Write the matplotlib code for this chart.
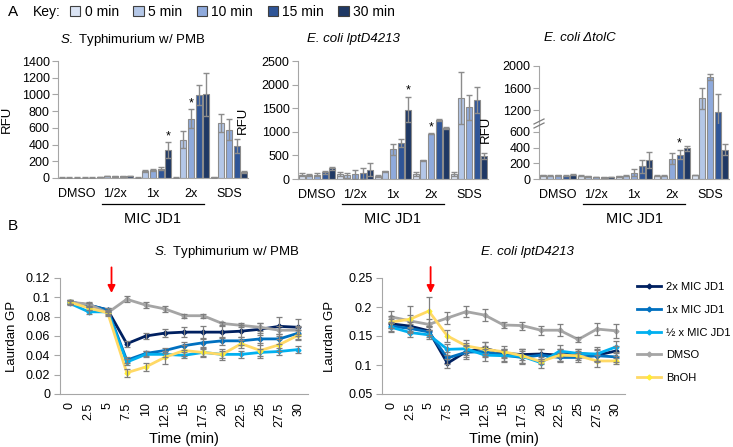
import matplotlib.pyplot as plt
import numpy as np
from matplotlib.patches import Patch
from matplotlib.lines import Line2D
from matplotlib.transforms import blended_transform_factory

plt.rcParams['font.family'] = ['Liberation Sans', 'DejaVu Sans']
plt.rcParams['font.size'] = 9
plt.rcParams['mathtext.fontset'] = 'custom'
plt.rcParams['mathtext.it'] = 'Liberation Sans:italic'
plt.rcParams['mathtext.rm'] = 'Liberation Sans'

# ---- panel A data (rows = treatment groups, columns = time points) ----
times = ['0 min', '5 min', '10 min', '15 min', '30 min']
groups = ['DMSO', '1/2x', '1x', '2x', 'SDS']
bar_colors = ['#dae3f3', '#b4c7e7', '#8faadc', '#2f5597', '#1f3864']

st_vals = [[5, 5, 5, 5, 5],
           [10, 22, 20, 20, 22],
           [5, 85, 90, 110, 335],
           [5, 460, 710, 990, 1000],
           [8, 655, 580, 385, 70]]
st_err = [[2, 2, 2, 2, 2],
          [3, 3, 3, 3, 3],
          [3, 10, 12, 20, 90],
          [3, 105, 110, 120, 260],
          [3, 105, 130, 80, 12]]
st_stars = [(2, 4), (3, 2)]

ec_vals = [[95, 90, 95, 140, 230],
           [100, 80, 100, 120, 200],
           [70, 160, 630, 760, 1470],
           [100, 400, 960, 1250, 1080],
           [110, 1720, 1520, 1670, 490]]
ec_err = [[40, 25, 25, 30, 30],
          [45, 50, 90, 110, 130],
          [20, 15, 120, 80, 270],
          [40, 10, 15, 15, 20],
          [40, 550, 260, 270, 70]]
ec_stars = [(2, 4), (3, 2)]

tc_vals = [[45, 40, 45, 40, 55],
           [40, 35, 25, 20, 25],
           [35, 40, 80, 160, 240],
           [40, 40, 260, 310, 390],
           [50, 1420, 1800, 1160, 370]]
tc_err = [[5, 5, 5, 5, 10],
          [5, 5, 3, 3, 3],
          [5, 5, 45, 80, 100],
          [5, 5, 70, 60, 30],
          [5, 190, 60, 340, 70]]
tc_stars = [(3, 3)]

# ---- panel B data ----
t_min = [0, 2.5, 5, 7.5, 10, 12.5, 15, 17.5, 20, 22.5, 25, 27.5, 30]
series_names = ['2x MIC JD1', '1x MIC JD1', '½ x MIC JD1', 'DMSO', 'BnOH']
line_colors = ['#002060', '#0070c0', '#00b0f0', '#a5a5a5', '#ffd966']

st_gp = [[0.095, 0.092, 0.087, 0.052, 0.060, 0.063, 0.064, 0.064, 0.064, 0.065, 0.067, 0.070, 0.069],
         [0.095, 0.092, 0.087, 0.035, 0.042, 0.045, 0.050, 0.053, 0.055, 0.055, 0.057, 0.057, 0.063],
         [0.094, 0.085, 0.085, 0.033, 0.041, 0.041, 0.040, 0.043, 0.041, 0.041, 0.043, 0.044, 0.046],
         [0.095, 0.093, 0.084, 0.098, 0.092, 0.088, 0.081, 0.081, 0.073, 0.071, 0.069, 0.066, 0.066],
         [0.095, 0.089, 0.084, 0.022, 0.028, 0.038, 0.045, 0.043, 0.041, 0.052, 0.045, 0.051, 0.061]]
st_gp_err = [[0.002, 0.002, 0.002, 0.003, 0.003, 0.004, 0.005, 0.006, 0.006, 0.006, 0.006, 0.010, 0.009],
             [0.002, 0.002, 0.002, 0.003, 0.003, 0.003, 0.004, 0.004, 0.004, 0.004, 0.006, 0.005, 0.006],
             [0.002, 0.002, 0.002, 0.003, 0.003, 0.003, 0.003, 0.004, 0.004, 0.004, 0.004, 0.004, 0.004],
             [0.002, 0.002, 0.003, 0.003, 0.003, 0.003, 0.002, 0.002, 0.002, 0.002, 0.004, 0.004, 0.004],
             [0.002, 0.002, 0.002, 0.004, 0.004, 0.007, 0.006, 0.005, 0.006, 0.004, 0.008, 0.006, 0.005]]

ec_gp = [[0.171, 0.167, 0.159, 0.103, 0.123, 0.129, 0.120, 0.118, 0.119, 0.117, 0.120, 0.117, 0.124],
         [0.167, 0.163, 0.157, 0.112, 0.122, 0.123, 0.117, 0.113, 0.117, 0.113, 0.113, 0.116, 0.114],
         [0.165, 0.156, 0.152, 0.127, 0.128, 0.117, 0.116, 0.115, 0.104, 0.124, 0.120, 0.119, 0.131],
         [0.183, 0.176, 0.170, 0.181, 0.192, 0.186, 0.169, 0.168, 0.160, 0.160, 0.144, 0.162, 0.159],
         [0.174, 0.179, 0.193, 0.150, 0.133, 0.127, 0.123, 0.116, 0.106, 0.117, 0.116, 0.107, 0.107]]
ec_gp_err = [[0.008, 0.008, 0.008, 0.008, 0.010, 0.010, 0.008, 0.010, 0.008, 0.010, 0.008, 0.010, 0.008],
             [0.008, 0.008, 0.008, 0.010, 0.012, 0.010, 0.010, 0.012, 0.010, 0.008, 0.008, 0.010, 0.008],
             [0.008, 0.008, 0.008, 0.010, 0.010, 0.010, 0.010, 0.012, 0.010, 0.010, 0.008, 0.012, 0.010],
             [0.010, 0.010, 0.010, 0.010, 0.010, 0.010, 0.005, 0.007, 0.008, 0.010, 0.005, 0.010, 0.012],
             [0.010, 0.022, 0.025, 0.010, 0.010, 0.012, 0.010, 0.012, 0.005, 0.010, 0.008, 0.010, 0.005]]

W, H = 733, 447
fig = plt.figure(figsize=(W / 100, H / 100), dpi=100)


def fr(x0, y_top, x1, y_bot):
    return [x0 / W, 1 - y_bot / H, (x1 - x0) / W, (y_bot - y_top) / H]


edge = '#8c8c8c'
spine_c = '#a6a6a6'


def draw_bars(ax, vals, errs):
    vals = np.array(vals)
    errs = np.array(errs)
    for t in range(len(times)):
        x = np.arange(len(groups)) * 5 + t
        ax.bar(x, vals[:, t], width=0.78, color=bar_colors[t], edgecolor=edge, lw=0.8,
               yerr=errs[:, t], zorder=2,
               error_kw=dict(ecolor=edge, elinewidth=1, capsize=2.2, capthick=1, zorder=3))


def style_a(ax, show_x=True):
    ax.set_xlim(-0.5, 24.5)
    for s in ['top', 'right']:
        ax.spines[s].set_visible(False)
    ax.spines['left'].set_color(spine_c)
    ax.spines['bottom'].set_color(spine_c)
    ax.tick_params(axis='y', color=spine_c, length=4, pad=2, labelsize=9)
    if show_x:
        ax.set_xticks(np.arange(len(groups)) * 5 + 2, groups)
        ax.tick_params(axis='x', length=0, pad=7, labelsize=9)
    else:
        ax.set_xticks([])


def mic_bracket(ax):
    tr = blended_transform_factory(ax.transData, fig.transFigure)
    ax.add_line(Line2D([5.3, 18.7], [1 - 204 / H] * 2, transform=tr, color='black', lw=0.9, clip_on=False))
    ax.text(12, 1 - 219 / H, 'MIC JD1', transform=tr, ha='center', va='center', fontsize=10.5)


def stars(ax, vals, errs, marks):
    for g, t in marks:
        ax.annotate('*', xy=(g * 5 + t, vals[g][t] + errs[g][t]), xytext=(0, 0),
                    textcoords='offset points', ha='center', va='bottom', fontsize=9)


# Chart A1
ax1 = fig.add_axes(fr(58, 61, 248, 178))
draw_bars(ax1, st_vals, st_err)
style_a(ax1)
ax1.set_ylim(0, 1400)
ax1.set_yticks(np.arange(0, 1401, 200))
ax1.set_ylabel('RFU', fontsize=9.5)
ax1.yaxis.set_label_coords(-0.24, 0.5)
stars(ax1, st_vals, st_err, st_stars)
mic_bracket(ax1)
fig.text(133 / W, 1 - 40 / H, r'$\mathit{S.}$ Typhimurium w/ PMB', ha='center', va='center', fontsize=9.5)

# Chart A2
ax2 = fig.add_axes(fr(298, 61, 488, 179))
draw_bars(ax2, ec_vals, ec_err)
style_a(ax2)
ax2.set_ylim(0, 2500)
ax2.set_yticks(np.arange(0, 2501, 500))
ax2.set_ylabel('RFU', fontsize=9.5)
ax2.yaxis.set_label_coords(-0.26, 0.5)
stars(ax2, ec_vals, ec_err, ec_stars)
mic_bracket(ax2)
fig.text(353 / W, 1 - 39 / H, 'E. coli lptD4213', ha='center', va='center', fontsize=9.5, style='italic')

# Chart A3 (broken axis)
ax3h = fig.add_axes(fr(539, 66, 729, 124))
ax3l = fig.add_axes(fr(539, 124, 729, 179))
for ax in (ax3h, ax3l):
    draw_bars(ax, tc_vals, tc_err)
style_a(ax3h, show_x=False)
ax3h.spines['bottom'].set_visible(False)
ax3h.set_ylim(950, 2000)
ax3h.set_yticks([1200, 1600, 2000])
style_a(ax3l)
ax3l.set_ylim(0, 700)
ax3l.set_yticks([0, 200, 400, 600])
ax3l.set_ylabel('RFU', fontsize=9.5)
ax3l.yaxis.set_label_coords(-0.25, 0.9)
stars(ax3l, tc_vals, tc_err, tc_stars)
mic_bracket(ax3l)
for dy in (0, 4):
    fig.add_artist(Line2D([534 / W, 544 / W], [1 - (128 - dy) / H, 1 - (123 - dy) / H],
                          color='#7f7f7f', lw=0.9))
fig.text(580 / W, 1 - 38 / H, 'E. coli ΔtolC', ha='center', va='center', fontsize=9.5, style='italic')

# Key legend
fig.text(8 / W, 1 - 12 / H, 'A', fontsize=11, va='center', ha='left')
fig.text(33 / W, 1 - 12 / H, 'Key:', fontsize=10, va='center', ha='left')
key_handles = [Patch(facecolor=c, edgecolor='#404040', lw=0.8, label=t) for c, t in zip(bar_colors, times)]
fig.legend(handles=key_handles, ncol=5, loc='center left', bbox_to_anchor=(70 / W, 1 - 12 / H),
           frameon=False, fontsize=10, handlelength=0.75, handleheight=0.75, handletextpad=0.3,
           columnspacing=1.05, borderpad=0, borderaxespad=0)


# Panel B
def draw_lines(ax, data, errs):
    for vals, err, c in zip(data, errs, line_colors):
        mfc = '#ffee33' if c == '#ffd966' else c
        ax.plot(t_min, vals, color=c, lw=2, marker='D', ms=2.5, mfc=mfc, mec=mfc, zorder=2)
        ax.errorbar(t_min, vals, yerr=err, fmt='none', ecolor='#7f7f7f', elinewidth=0.9,
                    capsize=2.5, capthick=0.9, zorder=3)


def style_b(ax):
    ax.set_xlim(-1.25, 31.25)
    ax.set_xticks(t_min, [f'{t:g}' for t in t_min], rotation=90)
    for s in ['top', 'right']:
        ax.spines[s].set_visible(False)
    ax.spines['left'].set_color(spine_c)
    ax.spines['bottom'].set_color(spine_c)
    ax.tick_params(axis='x', length=0, pad=6, labelsize=9)
    ax.tick_params(axis='y', color=spine_c, length=4, pad=3, labelsize=9)
    ax.yaxis.set_major_formatter(plt.FuncFormatter(lambda v, p: f'{v:g}'))
    ax.set_xlabel('Time (min)', fontsize=10.5, labelpad=4)


fig.text(8 / W, 1 - 226 / H, 'B', fontsize=11, va='center', ha='left')

bx1 = fig.add_axes(fr(60, 278, 308, 394))
draw_lines(bx1, st_gp, st_gp_err)
style_b(bx1)
bx1.set_ylim(0, 0.12)
bx1.set_yticks(np.arange(0, 0.121, 0.02))
bx1.set_ylabel('Laurdan GP', fontsize=9.5)
bx1.yaxis.set_label_coords(-0.17, 0.5)
bx1.annotate('', xy=(5.5, 0.1045), xytext=(5.5, 0.131), annotation_clip=False,
             arrowprops=dict(arrowstyle='-|>', color='red', lw=1.3, mutation_scale=11, shrinkA=0, shrinkB=0))
fig.text(227 / W, 1 - 252 / H, r'$\mathit{S.}$ Typhimurium w/ PMB', ha='center', va='center', fontsize=9.5)

bx2 = fig.add_axes(fr(382, 278, 625, 394))
draw_lines(bx2, ec_gp, ec_gp_err)
style_b(bx2)
bx2.set_ylim(0.05, 0.25)
bx2.set_yticks([0.05, 0.1, 0.15, 0.2, 0.25])
bx2.set_ylabel('Laurdan GP', fontsize=9.5)
bx2.yaxis.set_label_coords(-0.19, 0.5)
bx2.annotate('', xy=(5.25, 0.224), xytext=(5.25, 0.269), annotation_clip=False,
             arrowprops=dict(arrowstyle='-|>', color='red', lw=1.3, mutation_scale=11, shrinkA=0, shrinkB=0))
fig.text(527 / W, 1 - 252 / H, 'E. coli lptD4213', ha='center', va='center', fontsize=9.5, style='italic')

line_handles = [Line2D([], [], color=c, lw=2, marker='D', ms=2.5,
                       mfc='#ffee33' if c == '#ffd966' else c,
                       mec='#ffee33' if c == '#ffd966' else c, label=n)
                for c, n in zip(line_colors, series_names)]
fig.legend(handles=line_handles, loc='upper left', bbox_to_anchor=(637 / W, 1 - 282 / H), frameon=False,
           fontsize=8, handlelength=2.2, handletextpad=0.4, labelspacing=1.15, borderpad=0, borderaxespad=0)

fig.savefig('out.png', dpi=100)
